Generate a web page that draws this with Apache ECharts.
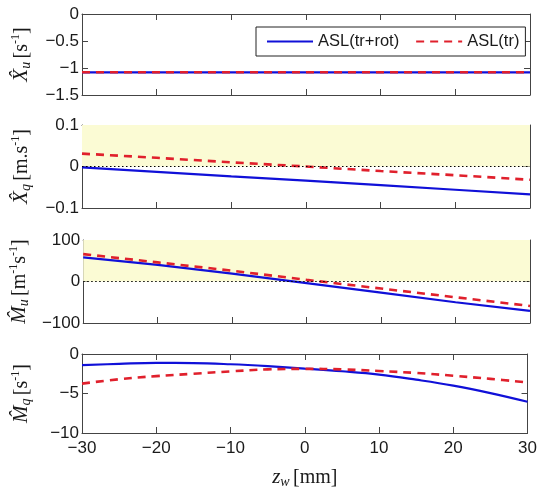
<!DOCTYPE html>
<html><head><meta charset="utf-8">
<script src="https://cdn.jsdelivr.net/npm/echarts@6/dist/echarts.min.js"></script>
<style>html,body{margin:0;padding:0;background:#fff}#c{width:540px;height:490px}</style>
</head><body><div id="c"></div>
<script>
// ---- data ----
const zwCoarse = [-30, -20, -10, 0, 10, 20, 30];
const zwFine = [-30, -25, -20, -15, -10, -5, 0, 5, 10, 15, 20, 25, 30];
const xuTrRot = [-1.08, -1.08, -1.08, -1.08, -1.08, -1.08, -1.08];
const xuTr = [-1.08, -1.08, -1.08, -1.08, -1.08, -1.08, -1.08];
const xqTrRot = [-0.002, -0.013, -0.024, -0.034, -0.045, -0.056, -0.067];
const xqTr = [0.031, 0.021, 0.010, 0.0, -0.011, -0.021, -0.032];
const muTrRot = [58, 40, 19, -4, -27, -50, -71];
const muTr = [66, 46, 26, 4, -17, -38, -59];
const mqTrRot = [-1.41, -1.25, -1.13, -1.15, -1.3, -1.54, -1.85, -2.18, -2.6, -3.25, -4.0, -4.95, -6.05];
const mqTr = [-3.75, -3.2, -2.8, -2.5, -2.2, -1.95, -1.88, -1.95, -2.15, -2.4, -2.75, -3.15, -3.6];
const yRanges = [[-1.5, 0, 0.5], [-0.1, 0.1, 0.1], [-100, 100, 100], [-10, 0, 5]];
const yNames = [
  '{i|X̂}{sub|u} {r|[s}{sup|-1}{r|]}',
  '{i|X̂}{sub|q} {r|[m.s}{sup|-1}{r|]}',
  '{i|M̂}{sub|u} {r|[m}{sup|-1}{r|s}{sup|-1}{r|]}',
  '{i|M̂}{sub|q} {r|[s}{sup|-1}{r|]}'
];
const xName = '{i|z}{sub|w} {r|[mm]}';
const seriesNames = ['ASL(tr+rot)', 'ASL(tr)'];

// ---- layout ----
const grids = [
  {left: 82, right: 10, top: 14, height: 81},
  {left: 82, right: 10, top: 125, height: 83},
  {left: 82, right: 10, top: 240, height: 83},
  {left: 82, right: 10, top: 354, height: 82}
];
const axisCol = '#444';
const txt = '#1a1a1a';
const fmt = v => String(v).replace('-', '\u2212');
const rich = {
  i: {fontFamily: 'Liberation Serif', fontStyle: 'italic', fontSize: 21, color: txt},
  sub: {fontFamily: 'Liberation Serif', fontStyle: 'italic', fontSize: 14, color: txt, verticalAlign: 'bottom', padding: [9, 0, 0, 0]},
  r: {fontFamily: 'Liberation Serif', fontSize: 20, color: txt},
  sup: {fontFamily: 'Liberation Serif', fontSize: 12, color: txt, verticalAlign: 'top', padding: [0, 0, 9, 0]}
};
const xAxes = [], yAxes = [];
const lineCommon = {show: true, onZero: false, lineStyle: {color: axisCol, width: 1}};
const tickCommon = {show: true, inside: true, length: 6, lineStyle: {color: axisCol}};
grids.forEach((g, i) => {
  xAxes.push({
    type: 'value', gridIndex: i, min: -30, max: 30, interval: 10, position: 'bottom',
    axisLine: lineCommon, axisTick: tickCommon,
    axisLabel: {show: i === 3, formatter: fmt, fontFamily: 'Liberation Sans', fontSize: 17, color: txt, margin: 7},
    splitLine: {show: false},
    name: i === 3 ? xName : '', nameLocation: 'middle', nameGap: 33,
    nameTextStyle: {rich: rich}
  });
  xAxes.push({
    type: 'value', gridIndex: i, min: -30, max: 30, interval: 10, position: 'top',
    axisLine: lineCommon, axisTick: tickCommon,
    axisLabel: {show: false}, splitLine: {show: false}
  });
  const r = yRanges[i];
  yAxes.push({
    type: 'value', gridIndex: i, min: r[0], max: r[1], interval: r[2], position: 'left',
    axisLine: lineCommon, axisTick: tickCommon,
    axisLabel: {formatter: fmt, fontFamily: 'Liberation Sans', fontSize: 17, color: txt, margin: 3},
    splitLine: {show: false},
    name: yNames[i], nameLocation: 'middle', nameRotate: 90, nameGap: 49,
    nameTextStyle: {rich: rich}
  });
  yAxes.push({
    type: 'value', gridIndex: i, min: r[0], max: r[1], interval: r[2], position: 'right',
    axisLine: lineCommon, axisTick: tickCommon,
    axisLabel: {show: false}, splitLine: {show: false}
  });
});

const blue = '#1010d8', red = '#e0202c';
function pairs(xs, ys) { return xs.map((x, k) => [x, ys[k]]); }
const panelData = [
  [pairs(zwCoarse, xuTrRot), pairs(zwCoarse, xuTr)],
  [pairs(zwCoarse, xqTrRot), pairs(zwCoarse, xqTr)],
  [pairs(zwCoarse, muTrRot), pairs(zwCoarse, muTr)],
  [pairs(zwFine, mqTrRot), pairs(zwFine, mqTr)]
];
const series = [];
panelData.forEach((pd, i) => {
  const shaded = (i === 1 || i === 2);
  series.push({
    name: seriesNames[0], type: 'line', xAxisIndex: 2 * i, yAxisIndex: 2 * i,
    data: pd[0], symbol: 'none', smooth: i === 3 ? 0.4 : false,
    lineStyle: {color: blue, width: 2.2}, itemStyle: {color: blue},
    z: 3,
    markArea: shaded ? {silent: true, itemStyle: {color: '#fbfbd4'},
      data: [[{yAxis: 0}, {yAxis: yRanges[i][1]}]]} : undefined,
    markLine: shaded ? {silent: true, symbol: 'none', label: {show: false},
      lineStyle: {type: [1.5, 2.5], color: '#000', width: 1},
      data: [{yAxis: 0}]} : undefined
  });
  series.push({
    name: seriesNames[1], type: 'line', xAxisIndex: 2 * i, yAxisIndex: 2 * i,
    data: pd[1], symbol: 'none', smooth: i === 3 ? 0.4 : false,
    lineStyle: {color: red, width: 2.6, type: [8, 6]}, itemStyle: {color: red},
    z: 4
  });
});

const chart = echarts.init(document.getElementById('c'), null, {renderer: 'canvas'});
chart.setOption({
  animation: false,
  backgroundColor: '#fff',
  grid: grids,
  xAxis: xAxes,
  yAxis: yAxes,
  legend: {
    data: seriesNames, left: 256, top: 27, orient: 'horizontal',
    padding: [6, 6, 6, 10], itemGap: 16, itemWidth: 46, itemHeight: 16,
    borderColor: '#222', borderWidth: 1, backgroundColor: '#fff',
    itemStyle: {color: 'rgba(0,0,0,0)', borderColor: 'rgba(0,0,0,0)', borderWidth: 0},
    textStyle: {fontFamily: 'Liberation Sans', fontSize: 16.5, color: txt}
  },
  series: series
});
</script></body></html>
